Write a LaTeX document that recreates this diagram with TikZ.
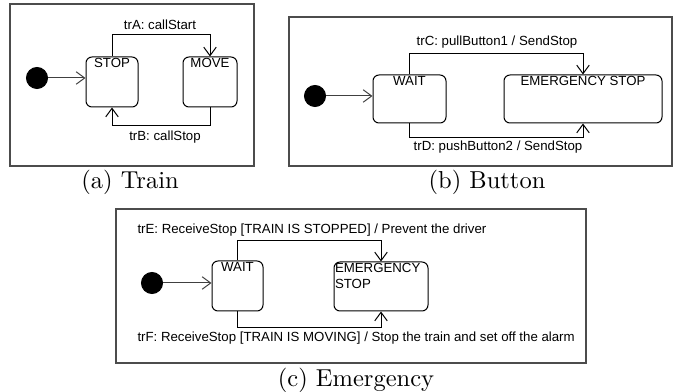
\documentclass[tikz,border=0pt]{standalone}
\usepackage{fontspec}
\newfontfamily\umlfont{Liberation Sans}
\usetikzlibrary{arrows.meta}

\tikzset{
  state/.style={draw, rounded corners=2.4pt, inner sep=0pt, line width=0.4pt},
  statename/.style={font=\umlfont\fontsize{5.3}{6.4}\selectfont, inner sep=0.4pt},
  initial/.style={circle, fill=black, draw=black, inner sep=0pt, minimum size=8.4pt},
  trans/.style={-{Straight Barb[length=3.4pt,width=5pt]}, line width=0.4pt},
  trlabel/.style={font=\umlfont\fontsize{5.3}{6.4}\selectfont, inner sep=0pt},
  frame/.style={draw=black!70, line width=0.7pt},
  caption/.style={font=\fontsize{9.8}{12}\selectfont, inner sep=0pt}
}

\begin{document}
\begin{tikzpicture}[x=0.4pt, y=-0.4pt]
    \useasboundingbox (0,0) rectangle (673,392);

    % (a) Train
    \draw[frame] (10,4) rectangle (254,166);
    \node[initial] (initA) at (37,78) {};
    \node[state, minimum width=20.8pt, minimum height=20pt,
          label={[statename, anchor=north]north:STOP}] (stop) at (112,82) {};
    \node[state, minimum width=21.6pt, minimum height=20pt,
          label={[statename, anchor=north]north:MOVE}] (move) at (210,82) {};
    \node[trlabel] (trA) at (160,25) {trA: callStart};
    \node[trlabel] (trB) at (165,137) {trB: callStop};
    \node[caption] (capA) at (130,182) {(a) Train};

    \draw[trans, draw=black!75] (initA) -- (initA -| stop.west);
    \draw[trans] (stop.north) -- ++(0,-22) -| (move.north);
    \draw[trans] (move.south) -- ++(0,18) -| (stop.south);

    % (b) Button
    \draw[frame] (289,17) rectangle (672,166);
    \node[initial] (initB) at (315,96) {};
    \node[state, minimum width=29.2pt, minimum height=19.2pt,
          label={[statename, anchor=north]north:WAIT}] (waitB) at (409.5,99) {};
    \node[state, minimum width=63.2pt, minimum height=19.2pt,
          label={[statename, anchor=north]north:EMERGENCY STOP}] (stopB) at (583,99) {};
    \node[trlabel] (trC) at (497,42) {trC: pullButton1 / SendStop};
    \node[trlabel] (trD) at (498,147) {trD: pushButton2 / SendStop};
    \node[caption] (capB) at (487,182) {(b) Button};

    \draw[trans, draw=black!75] (initB) -- (initB -| waitB.west);
    \draw[trans] (waitB.north) -- ++(0,-21) -| (stopB.north);
    \draw[trans] (waitB.south) -- ++(0,14) -| (stopB.south);

    % (c) Emergency
    \draw[frame] (116,209) rectangle (586,363);
    \node[initial] (initC) at (152,283) {};
    \node[state, minimum width=20.4pt, minimum height=20pt,
          label={[statename, anchor=north]north:WAIT}] (waitC) at (237.5,286) {};
    \node[state, minimum width=37.6pt, minimum height=19.6pt,
          label={[statename, anchor=north west, align=left]north west:EMERGENCY\\STOP}] (stopC) at (381,286.5) {};
    \node[trlabel, anchor=west] (trE) at (137,230) {trE: ReceiveStop [TRAIN IS STOPPED] / Prevent the driver};
    \node[trlabel, anchor=west] (trF) at (137,338) {trF: ReceiveStop [TRAIN IS MOVING] / Stop the train and set off the alarm};
    \node[caption] (capC) at (356,380) {(c) Emergency};

    \draw[trans, draw=black!75] (initC) -- (initC -| waitC.west);
    \draw[trans] (waitC.north) -- ++(0,-20) -| (stopC.north);
    \draw[trans] (waitC.south) -- ++(0,16) -| (stopC.south);
\end{tikzpicture}
\end{document}
